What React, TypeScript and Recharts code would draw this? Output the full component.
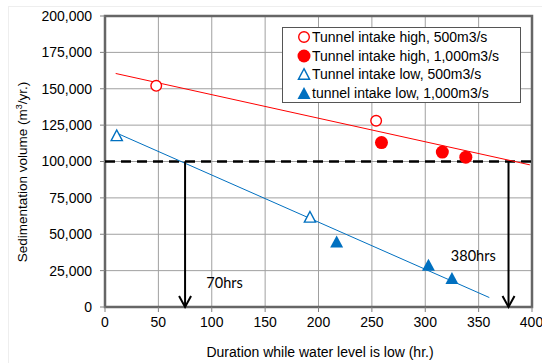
import { CartesianGrid, ComposedChart, Legend, ReferenceArea, ReferenceLine, Scatter, XAxis, YAxis } from "recharts"

// measured points (hours of low water level vs sedimentation volume)
const hoursHigh500 = [48, 254]
const volumeHigh500 = [152000, 128000]
const hoursHigh1000 = [259, 316, 338]
const volumeHigh1000 = [113000, 106500, 103000]
const hoursLow500 = [11, 192]
const volumeLow500 = [118000, 62000]
const hoursLow1000 = [217, 303, 325]
const volumeLow1000 = [45000, 29000, 20000]

// trend lines
const trendHighHours = [10, 398]
const trendHighVolume = [160500, 97700]
const trendLowHours = [12, 360]
const trendLowVolume = [119200, 6500]

// threshold and arrows
const threshold = 100000
const arrowHours = [75, 378]
const noteHours = [112, 345]
const noteVolume = [17000, 35500]
const noteText = ["70hrs", "380hrs"]

const xTicks = [0, 50, 100, 150, 200, 250, 300, 350, 400]
const yTicks = [0, 25000, 50000, 75000, 100000, 125000, 150000, 175000, 200000]

const RED = "#ff0000"
const BLUE = "#0070c0"
const FONT = "'Liberation Sans', Arial, sans-serif"

const toPoints = (xs: number[], ys: number[]) => xs.map((x, i) => ({ x, y: ys[i] }))

type Kind = "circle" | "triangle"

function Marker({ cx, cy, kind, filled, color }: { cx: number; cy: number; kind: Kind; filled: boolean; color: string }) {
  if (kind === "circle") {
    return filled ? (
      <circle cx={cx} cy={cy} r={6.5} fill={color} />
    ) : (
      <circle cx={cx} cy={cy} r={5.3} fill="#fff" stroke={color} strokeWidth={1.4} />
    )
  }
  const pts = `${cx},${cy - 6} ${cx + 6.5},${cy + 6} ${cx - 6.5},${cy + 6}`
  return filled ? (
    <polygon points={pts} fill={color} />
  ) : (
    <polygon points={`${cx},${cy - 5.3} ${cx + 5.6},${cy + 5.3} ${cx - 5.6},${cy + 5.3}`} fill="#fff" stroke={color} strokeWidth={1.4} />
  )
}

const series = [
  { name: "Tunnel intake high, 500m3/s", kind: "circle" as Kind, filled: false, color: RED, data: toPoints(hoursHigh500, volumeHigh500) },
  { name: "Tunnel intake high, 1,000m3/s", kind: "circle" as Kind, filled: true, color: RED, data: toPoints(hoursHigh1000, volumeHigh1000) },
  { name: "Tunnel intake low, 500m3/s", kind: "triangle" as Kind, filled: false, color: BLUE, data: toPoints(hoursLow500, volumeLow500) },
  { name: "tunnel intake low, 1,000m3/s", kind: "triangle" as Kind, filled: true, color: BLUE, data: toPoints(hoursLow1000, volumeLow1000) },
]

function LegendBox() {
  return (
    <div
      style={{
        border: "1.5px solid #555",
        background: "#fff",
        boxSizing: "border-box",
        width: 239,
        height: 76,
        padding: "0 0 0 14px",
        fontFamily: FONT,
        fontSize: 14,
        color: "#000",
        whiteSpace: "nowrap",
      }}
    >
      {series.map((s) => (
        <div key={s.name} style={{ display: "flex", alignItems: "center", height: 18.5 }}>
          <svg width={14} height={14} style={{ marginRight: 1 }}>
            <Marker cx={7} cy={7} kind={s.kind} filled={s.filled} color={s.color} />
          </svg>
          <span>{s.name}</span>
        </div>
      ))}
    </div>
  )
}

function ArrowHead(props: any) {
  const { cx, cy, payload } = props
  if (payload.y !== 0) return <g />
  return <path d={`M${cx - 6},${cy - 11} L${cx},${cy} L${cx + 6},${cy - 11}`} fill="none" stroke="#000" strokeWidth={2} />
}

export default function App() {
  return (
    <div style={{ position: "absolute", left: 0, top: 0, width: 542, height: 363, background: "#fff" }}>
      <div
        style={{
          position: "absolute",
          left: 8,
          top: 6,
          width: 540,
          height: 356,
          borderLeft: "1px solid #eeeeee",
          borderTop: "1px solid #eeeeee",
          borderBottom: "1px solid #eeeeee",
        }}
      />
      <ComposedChart width={542} height={363} margin={{ top: 16, right: 10, bottom: 10, left: 0 }} style={{ fontFamily: FONT }}>
        <CartesianGrid stroke="#a0a0a0" strokeWidth={1} />
        <XAxis
          type="number"
          dataKey="x"
          domain={[0, 400]}
          ticks={xTicks}
          height={46}
          tick={{ fontSize: 14, fill: "#000" }}
          tickLine={{ stroke: "#808080" }}
          tickSize={5}
          tickMargin={5}
          axisLine={false}
          label={{
            content: () => (
              <text x={320} y={357} textAnchor="middle" fontSize={14} fill="#000">
                Duration while water level is low (hr.)
              </text>
            ),
          }}
        />
        <YAxis
          type="number"
          dataKey="y"
          domain={[0, 200000]}
          ticks={yTicks}
          width={105}
          tick={{ fontSize: 14, fill: "#000" }}
          tickFormatter={(v: number) => v.toLocaleString("en-US")}
          tickLine={{ stroke: "#808080" }}
          tickSize={5}
          tickMargin={8}
          axisLine={false}
          label={{
            content: () => (
              <text x={27} y={172} transform="rotate(-90, 27, 172)" textAnchor="middle" fontSize={13.5} fill="#000">
                Sedimentation volume (m<tspan dy={-5} fontSize={9}>3</tspan>
                <tspan dy={5}>/yr.)</tspan>
              </text>
            ),
          }}
        />
        <ReferenceLine y={threshold} stroke="#000" strokeWidth={2.5} strokeDasharray="10 6" />
        <Scatter
          data={toPoints(trendHighHours, trendHighVolume)}
          line={{ stroke: RED, strokeWidth: 1 }}
          shape={() => <g />}
          legendType="none"
          isAnimationActive={false}
        />
        <Scatter
          data={toPoints(trendLowHours, trendLowVolume)}
          line={{ stroke: BLUE, strokeWidth: 1 }}
          shape={() => <g />}
          legendType="none"
          isAnimationActive={false}
        />
        {series.map((s) => (
          <Scatter
            key={s.name}
            name={s.name}
            data={s.data}
            fill={s.color}
            shape={(p: any) => <Marker cx={p.cx} cy={p.cy} kind={s.kind} filled={s.filled} color={s.color} />}
            isAnimationActive={false}
          />
        ))}
        {arrowHours.map((h) => (
          <Scatter
            key={h}
            data={[
              { x: h, y: threshold },
              { x: h, y: 0 },
            ]}
            line={{ stroke: "#000", strokeWidth: 2 }}
            shape={ArrowHead}
            legendType="none"
            isAnimationActive={false}
          />
        ))}
        <Scatter
          data={noteHours.map((x, i) => ({ x, y: noteVolume[i], text: noteText[i] }))}
          shape={(p: any) => (
            <text x={p.cx} y={p.cy} textAnchor="middle" dominantBaseline="central" fontSize={14.5} fontFamily="Lato, 'Open Sans', sans-serif" fill="#000">
              {p.payload.text}
            </text>
          )}
          legendType="none"
          isAnimationActive={false}
        />
        <ReferenceArea x1={0} x2={400} y1={0} y2={200000} fill="none" stroke="#666" strokeWidth={2.5} />
        <Legend
          layout="horizontal"
          verticalAlign="middle"
          align="center"
          content={() => <LegendBox />}
          wrapperStyle={{ left: 282, top: 27, width: 239, height: 76 }}
        />
      </ComposedChart>
    </div>
  )
}
